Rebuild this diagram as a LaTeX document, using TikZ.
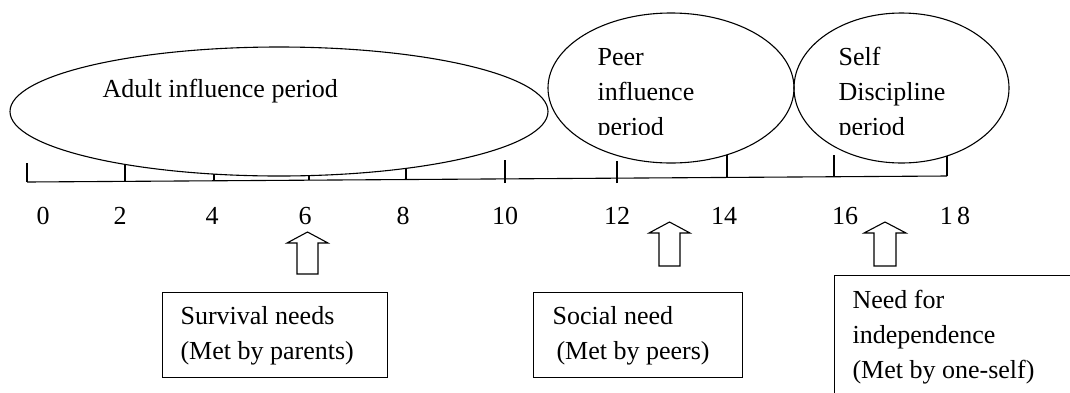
\documentclass[tikz,border=0pt]{standalone}
\usepackage{fontspec}
\setmainfont{Liberation Serif}
\usetikzlibrary{shapes.geometric}
\begin{document}
\begin{tikzpicture}[x=1pt,y=-1pt,line width=1.1pt,
  lbl/.style={font=\fontsize{26}{35}\selectfont,inner sep=0pt,anchor=base west,align=left},
  num/.style={font=\fontsize{26}{35}\selectfont,inner sep=0pt,anchor=base},
  period/.style={draw,ellipse,inner sep=0pt},
  needbox/.style={draw,inner sep=0pt,anchor=north west},
  blockarrow/.style={draw,line width=1.1pt,line join=miter}]
\useasboundingbox (0,0) rectangle (1070,392);
\clip (0,0) rectangle (1070,392);
% period ellipses
\node[period,minimum width=538pt,minimum height=129pt] (adult) at (279,111.5) {};
\node[period,minimum width=246pt,minimum height=150pt] (peer) at (671,88) {};
\node[period,minimum width=215pt,minimum height=150pt] (selfp) at (901.5,88) {};
\node[lbl] (adulttext) at (102,97) {Adult influence period};
\begin{scope}
  \clip (560,0) rectangle (1070,134);
  \node[lbl] (peertext) at (597,135.5) {Peer\\influence\\period};
  \node[lbl] (selftext) at (838,135.5) {Self\\Discipline\\period};
\end{scope}
% time line
\coordinate (t0) at (27,182);
\coordinate (t18) at (947,176);
\draw (t0) -- (t18);
\foreach \x/\yb/\yt in {27/182/163,125/181.4/165,214/180.8/174,309/180.2/176,406/179.5/169,505/183/160,617/183/161,727/177.4/155,834/176.7/155,947/176/156}
  \draw (\x,\yb) -- (\x,\yt);
\foreach \x/\t/\n in {43/0/l0,120/2/l2,212/4/l4,305/6/l6,403/8/l8,505/10/l10,617/12/l12,724/14/l14,845/16/l16,955/1\,8/l18}
  \node[num] (\n) at (\x,224) {\t};
% need boxes
\node[needbox,minimum width=225pt,minimum height=85pt] (survival) at (162,292) {};
\node[needbox,minimum width=209pt,minimum height=85pt] (social) at (533,292) {};
\node[needbox,minimum width=300pt,minimum height=160pt] (indep) at (834,275) {};
\node[lbl] (survivaltext) at (180,359) {Survival needs\\(Met by parents)};
\node[lbl] (socialtext) at (552,359) {Social need\\\hspace*{4pt}(Met by peers)};
\node[lbl] (indeptext) at (852,378) {Need for\\independence\\(Met by one-self)};
% block arrows
\draw[blockarrow] (297,274) -- (297,243) -- (287,243) -- (307.5,232) -- (328,243) -- (318,243) -- (318,274) -- cycle;
\draw[blockarrow] (659,266) -- (659,233) -- (649,233) -- (669.5,222) -- (690,233) -- (680,233) -- (680,266) -- cycle;
\draw[blockarrow] (874,266) -- (874,233) -- (864,233) -- (885,222) -- (906,233) -- (896,233) -- (896,266) -- cycle;
\end{tikzpicture}
\end{document}
